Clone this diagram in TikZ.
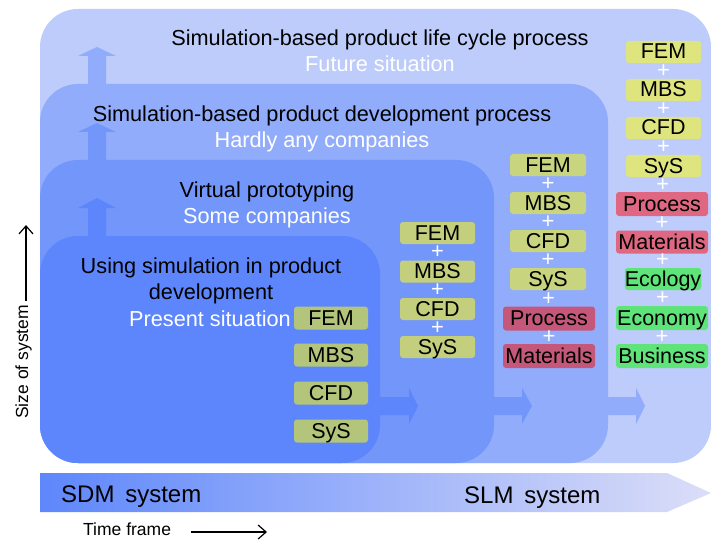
\documentclass[tikz,border=0pt]{standalone}
\usepackage{fontspec}
\setmainfont{Liberation Sans}
\usetikzlibrary{arrows.meta,calc}
\definecolor{lvA}{HTML}{BDCCFB}
\definecolor{lvB}{HTML}{92ACFC}
\definecolor{lvC}{HTML}{7396FB}
\definecolor{lvD}{HTML}{5E86FC}
\definecolor{tgA}{HTML}{B3C47B}
\definecolor{tgB}{HTML}{C3CF7C}
\definecolor{tgCy}{HTML}{C8D47E}
\definecolor{tgCr}{HTML}{C5587A}
\definecolor{tgDy}{HTML}{DFE57E}
\definecolor{tgDr}{HTML}{DF6781}
\definecolor{tgDg}{HTML}{5FE47A}
\definecolor{barL}{HTML}{5E87FB}
\definecolor{barR}{HTML}{DCDEF8}
\tikzset{
  tagbox/.style={rounded corners=3pt, minimum height=23pt, inner sep=0pt,
    font=\fontsize{21.5}{24}\selectfont, text height=16.5pt, text depth=2.5pt},
  plussign/.style={inner sep=0pt, text=white, font=\fontsize{22}{24}\selectfont},
  ttl/.style={anchor=base, inner sep=0pt, font=\fontsize{21.7}{26}\selectfont},
  sub/.style={ttl, text=white},
  axisarrow/.style={line width=1.2pt, -{Straight Barb[length=8pt,width=14pt,line width=1.2pt]}}
}
\begin{document}
\begin{tikzpicture}[x=1pt,y=-1pt]
\useasboundingbox (0,0) rectangle (711,540);
% nested regions
\fill[lvA, rounded corners=38pt] (40,9) rectangle (711,463);
\fill[lvB, rounded corners=38pt] (40,84) rectangle (608,463);
\fill[lvC, rounded corners=38pt] (40,160) rectangle (494,463);
\fill[lvD, rounded corners=38pt] (40,236) rectangle (380,463);
% up arrows
\fill[lvB] (88,84) -- (88,56) -- (78,56) -- (97,47) -- (116,56) -- (106,56) -- (106,84) -- cycle;
\fill[lvC] (88,160) -- (88,132) -- (78,132) -- (97,123) -- (116,132) -- (106,132) -- (106,160) -- cycle;
\fill[lvD] (88,236) -- (88,208) -- (78,208) -- (97,198) -- (116,208) -- (106,208) -- (106,236) -- cycle;
% right arrows
\fill[lvD] (370,397) -- (409,397) -- (409,388) -- (418,406) -- (409,424) -- (409,415) -- (370,415) -- cycle;
\fill[lvC] (484,397) -- (522,397) -- (522,388) -- (532,406) -- (522,424) -- (522,415) -- (484,415) -- cycle;
\fill[lvB] (598,397) -- (636,397) -- (636,388) -- (645,406) -- (636,424) -- (636,415) -- (598,415) -- cycle;
% titles
\node[ttl] (h1) at (380,46) {Simulation-based product life cycle process};
\node[sub] (s1) at (380,72) {Future situation};
\node[ttl] (h2) at (322,122) {Simulation-based product development process};
\node[sub] (s2) at (322,148) {Hardly any companies};
\node[ttl] (h3) at (267,197) {Virtual prototyping};
\node[sub] (s3) at (267,223) {Some companies};
\node[ttl] (h4a) at (211,273) {Using simulation in product};
\node[ttl] (h4b) at (211,299) {development};
\node[sub] (s4) at (210,326) {Present situation};
% column 1
\node[tagbox, fill=tgA, minimum width=74pt] (t1a) at (331,318) {FEM};
\node[tagbox, fill=tgA, minimum width=74pt] (t1b) at (331,355) {MBS};
\node[tagbox, fill=tgA, minimum width=74pt] (t1c) at (331,393) {CFD};
\node[tagbox, fill=tgA, minimum width=74pt] (t1d) at (331,431) {SyS};
% column 2
\node[tagbox, fill=tgB, minimum width=75pt, minimum height=22pt] (t2a) at (437.5,233) {FEM};
\node[tagbox, fill=tgB, minimum width=75pt, minimum height=22pt] (t2b) at (437.5,271.5) {MBS};
\node[tagbox, fill=tgB, minimum width=75pt, minimum height=22pt] (t2c) at (437.5,309) {CFD};
\node[tagbox, fill=tgB, minimum width=75pt, minimum height=22pt] (t2d) at (437.5,347) {SyS};
\foreach \a/\b/\n in {t2a/t2b/1,t2b/t2c/2,t2c/t2d/3}
  \node[plussign] (p2\n) at ($(\a)!0.5!(\b)$) {+};
% column 3
\node[tagbox, fill=tgCy, minimum width=76pt, minimum height=22pt] (t3a) at (548,165) {FEM};
\node[tagbox, fill=tgCy, minimum width=76pt, minimum height=22pt] (t3b) at (548,203) {MBS};
\node[tagbox, fill=tgCy, minimum width=76pt, minimum height=22pt] (t3c) at (548,241) {CFD};
\node[tagbox, fill=tgCy, minimum width=76pt, minimum height=22pt] (t3d) at (548,279) {SyS};
\node[tagbox, fill=tgCr, minimum width=92pt, minimum height=24pt] (t3e) at (549,318.5) {Process};
\node[tagbox, fill=tgCr, minimum width=92pt, minimum height=24pt] (t3f) at (549,356) {Materials};
\foreach \a/\b/\n in {t3a/t3b/1,t3b/t3c/2,t3c/t3d/3,t3d/t3e/4,t3e/t3f/5}
  \node[plussign] (p3\n) at ($(\a)!0.5!(\b)$) {+};
% column 4
\node[tagbox, fill=tgDy, minimum width=75pt, minimum height=22pt] (t4a) at (663.5,52) {FEM};
\node[tagbox, fill=tgDy, minimum width=75pt, minimum height=22pt] (t4b) at (663.5,90) {MBS};
\node[tagbox, fill=tgDy, minimum width=75pt, minimum height=22pt] (t4c) at (663.5,128) {CFD};
\node[tagbox, fill=tgDy, minimum width=75pt, minimum height=22pt] (t4d) at (663.5,166) {SyS};
\node[tagbox, fill=tgDr, minimum width=92pt, minimum height=24pt] (t4e) at (662,204) {Process};
\node[tagbox, fill=tgDr, minimum width=92pt, minimum height=23pt] (t4f) at (662,242) {Materials};
\node[tagbox, fill=tgDg, minimum width=76pt, minimum height=22pt] (t4g) at (663,279) {Ecology};
\node[tagbox, fill=tgDg, minimum width=92pt, minimum height=24pt] (t4h) at (662,318) {Economy};
\node[tagbox, fill=tgDg, minimum width=92pt, minimum height=24pt] (t4i) at (662,356) {Business};
\foreach \a/\b/\n in {t4a/t4b/1,t4b/t4c/2,t4c/t4d/3,t4d/t4e/4,t4e/t4f/5,t4f/t4g/6,t4g/t4h/7,t4h/t4i/8}
  \node[plussign] (p4\n) at ($(\a)!0.5!(\b)$) {+};
% bottom bar
\shade[left color=barL, right color=barR] (40,473) -- (667,473) -- (711,493) -- (667,512) -- (40,512) -- cycle;
\node[anchor=base west, inner sep=0pt, font=\fontsize{24}{28}\selectfont] (sdm) at (61,502) {SDM\hspace{0.45em}system};
\node[anchor=base west, inner sep=0pt, font=\fontsize{24}{28}\selectfont] (slm) at (464,503) {SLM\hspace{0.45em}system};
% axes
\node[anchor=base west, inner sep=0pt, font=\fontsize{17.5}{20}\selectfont] (tf) at (83,535) {Time frame};
\coordinate (tfs) at (191,532);
\coordinate (tfe) at (267,532);
\draw[axisarrow] (tfs) -- (tfe);
\node[anchor=base west, rotate=90, inner sep=0pt, font=\fontsize{17.5}{20}\selectfont] (sz) at (28,419) {Size of system};
\coordinate (szs) at (26,301);
\coordinate (sze) at (26,225);
\draw[axisarrow] (szs) -- (sze);
\end{tikzpicture}
\end{document}
